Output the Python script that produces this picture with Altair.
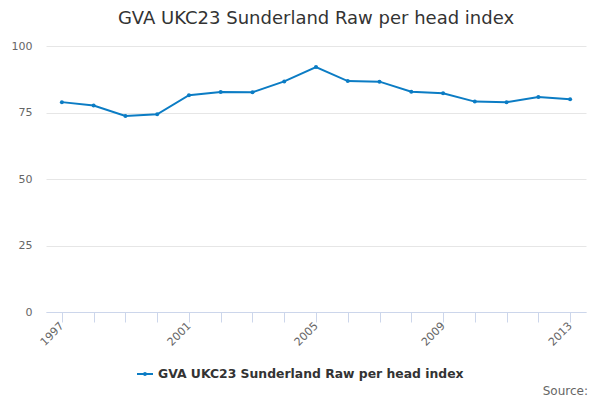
import altair as alt
import pandas as pd

years = list(range(1997, 2014))
values = [78.9, 77.6, 73.7, 74.3, 81.5, 82.7, 82.6, 86.7, 92.1, 86.8, 86.6, 82.8, 82.2, 79.1, 78.9, 80.8, 80.0]
series_name = "GVA UKC23 Sunderland Raw per head index"
y_ticks = [0, 25, 50, 75, 100]

df = pd.DataFrame({"year": years, "value": values, "series": [series_name] * len(years)})

FONT = "DejaVu Sans"
LINE_COLOR = "#0b7cc4"

line = alt.Chart(df).mark_line(
    strokeWidth=2,
    point=alt.OverlayMarkDef(filled=True, size=16, opacity=1),
).encode(
    x=alt.X(
        "year:O",
        title=None,
        axis=alt.Axis(
            labelAngle=-45,
            labelAlign="right",
            labelBaseline="middle",
            labelExpr="(toNumber(datum.value) - 1997) % 4 == 0 ? datum.label : ''",
            labelColor="#666666",
            labelFont=FONT,
            labelFontSize=11,
            labelPadding=2,
            tickColor="#ccd6eb",
            tickSize=10,
            domainColor="#ccd6eb",
            grid=False,
        ),
    ),
    y=alt.Y(
        "value:Q",
        title=None,
        scale=alt.Scale(domain=[0, 100], nice=False),
        axis=alt.Axis(
            values=y_ticks,
            labelColor="#666666",
            labelFont=FONT,
            labelFontSize=11,
            labelPadding=14,
            domain=False,
            ticks=False,
            gridColor="#e6e6e6",
        ),
    ),
    color=alt.Color(
        "series:N",
        scale=alt.Scale(range=[LINE_COLOR]),
        legend=alt.Legend(
            title=None,
            orient="none",
            legendX=90,
            legendY=319,
            labelFont=FONT,
            labelFontSize=12.4,
            labelFontWeight="bold",
            labelColor="#333333",
            labelOffset=4,
            labelLimit=0,
            symbolType="M-1,0L1,0M-0.12,0A0.12,0.12 0 1,1 0.12,0A0.12,0.12 0 1,1 -0.12,0",
            symbolSize=256,
            symbolStrokeWidth=2,
        ),
    ),
)

source = alt.Chart(pd.DataFrame({"t": ["Source:"]})).mark_text(
    align="right", baseline="bottom", font=FONT, fontSize=12, color="#666666"
).encode(text="t:N", x=alt.value(542), y=alt.value(352))

chart = alt.layer(line, source).properties(
    width=540,
    height=266,
    padding={"left": 38, "top": 38, "right": 6, "bottom": 92},
    autosize=alt.AutoSizeParams(type="none"),
    title=alt.Title(
        series_name,
        font=FONT,
        fontSize=18,
        fontWeight="normal",
        color="#333333",
        anchor="middle",
        offset=12,
    ),
).configure_view(stroke=None)

chart.save("out.html", embed_options={"renderer": "svg", "actions": False})
